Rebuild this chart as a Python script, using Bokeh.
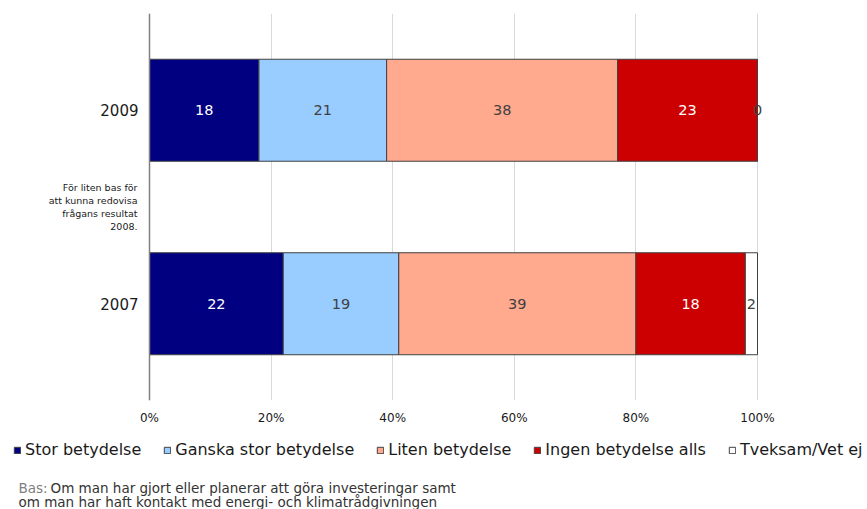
from bokeh.plotting import figure
from bokeh.models import (ColumnDataSource, FixedTicker, Legend, LegendItem,
                          Label, LabelSet, Range1d, Span)
from bokeh.layouts import column
from bokeh.core.properties import value
from bokeh.embed import file_html
from bokeh.resources import INLINE

# ---- data ----
years = ["2009", "2007"]
year_pos = [3, 1]
gap_pos = 2
series = ["Stor betydelse", "Ganska stor betydelse", "Liten betydelse",
          "Ingen betydelse alls", "Tveksam/Vet ej"]
values_2009 = [18, 21, 38, 23, 0]
values_2007 = [22, 19, 39, 18, 2]
colors = ["#000080", "#99CCFF", "#FFA98F", "#CC0000", "#FFFFFF"]
label_colors = ["#FFFFFF", "#404040", "#404040", "#FFFFFF", "#404040"]
x_ticks = [0, 20, 40, 60, 80, 100]
note_2008 = ["För liten bas för", "att kunna redovisa", "frågans resultat", "2008."]
footnote_head = "Bas:"
footnote_lines = ["Om man har gjort eller planerar att göra investeringar samt",
                  "om man har haft kontakt med energi- och klimatrådgivningen"]

FONT = "DejaVu Sans"
W = 859
PX_PER_PCT = 6.08
LEFT_PX = 149

# ---------------- main chart ----------------
p = figure(width=W, height=430, frame_width=W, frame_height=387,
           output_backend="svg", toolbar_location=None,
           x_range=Range1d(-LEFT_PX / PX_PER_PCT, (W - LEFT_PX) / PX_PER_PCT),
           y_range=Range1d(0, 4), y_axis_location=None,
           min_border_left=0, min_border_right=0, min_border_top=13,
           min_border_bottom=30)
p.outline_line_color = None

rows = [values_2009, values_2007]
lab_x, lab_y, lab_t, lab_c = [], [], [], []
for i, name in enumerate(series):
    lefts, rights = [], []
    for r, vals in enumerate(rows):
        left = sum(vals[:i])
        lefts.append(left)
        rights.append(left + vals[i])
        lab_x.append(left + vals[i] / 2)
        lab_y.append(year_pos[r])
        lab_t.append(str(vals[i]))
        lab_c.append(label_colors[i])
    src = ColumnDataSource(dict(y=year_pos, left=lefts, right=rights))
    p.hbar(y="y", left="left", right="right", height=1.054, source=src,
           fill_color=colors[i], line_color="#404040", line_width=1)

lsrc = ColumnDataSource(dict(x=lab_x, y=lab_y, t=lab_t, c=lab_c))
p.add_layout(LabelSet(x="x", y="y", text="t", source=lsrc, text_color="c",
                      text_align="center", text_baseline="middle",
                      text_font=value(FONT), text_font_size="14.5px"))

# category axis (vertical line at 0% + category labels)
p.add_layout(Span(location=0, dimension="height", line_color="#808080",
                  line_width=1.5))
ysrc = ColumnDataSource(dict(x=[0] * len(years), y=year_pos, t=years))
p.add_layout(LabelSet(x="x", y="y", text="t", source=ysrc, x_offset=-11,
                      text_align="right", text_baseline="middle",
                      text_font=value(FONT), text_font_size="15px",
                      text_color="#1a1a1a"))
for k, line in enumerate(note_2008):
    p.add_layout(Label(x=0, y=gap_pos, x_offset=-12, y_offset=20 - 13 * k,
                       text=line, text_align="right", text_baseline="middle",
                       text_font=FONT, text_font_size="9.5px",
                       text_color="#1a1a1a"))

# value axis
p.xaxis.ticker = FixedTicker(ticks=x_ticks)
p.xaxis.major_label_overrides = {t: f"{t}%" for t in x_ticks}
p.xaxis.axis_line_color = None
p.xaxis.major_tick_line_color = None
p.xaxis.minor_tick_line_color = None
p.xaxis.major_tick_in = 0
p.xaxis.major_tick_out = 0
p.xaxis.major_label_standoff = 10
p.xaxis.major_label_text_font = FONT
p.xaxis.major_label_text_font_size = "12px"
p.xaxis.major_label_text_color = "#1a1a1a"

p.xgrid.grid_line_color = "#D9D9D9"
p.xgrid.ticker = FixedTicker(ticks=x_ticks)
p.ygrid.grid_line_color = None

# ---------------- legend + footnote ----------------
HB = 79
WB = 867
q = figure(width=WB, height=HB, frame_width=WB, frame_height=HB,
           output_backend="svg", toolbar_location=None,
           x_range=Range1d(0, WB), y_range=Range1d(HB, 0),
           x_axis_location=None, y_axis_location=None,
           min_border=0)
q.outline_line_color = None
q.xgrid.grid_line_color = None
q.ygrid.grid_line_color = None

items = []
for s, c in zip(series, colors):
    # legend swatch carrier: empty bar placed far outside the visible range
    r = q.hbar(y=[5000], left=[5000], right=[5000], height=1, fill_color=c,
               line_color="#404040", line_width=1)
    items.append(LegendItem(label=s, renderers=[r]))
legend = Legend(items=items, orientation="horizontal", location=(13, 50),
                glyph_width=8, glyph_height=8, label_standoff=4, spacing=22,
                padding=0, margin=0, border_line_color=None,
                background_fill_alpha=0, label_text_font=FONT,
                label_text_font_size="16px", label_text_color="#1a1a1a",
                label_height=18)
q.add_layout(legend, "center")

q.add_layout(Label(x=18, y=57.5, text=footnote_head, text_align="left",
                   text_baseline="middle", text_font=FONT,
                   text_font_size="13.5px", text_color="#808080"))
q.add_layout(Label(x=50, y=57.5, text=footnote_lines[0], text_align="left",
                   text_baseline="middle", text_font=FONT,
                   text_font_size="13.5px", text_color="#333333"))
q.add_layout(Label(x=18, y=71.5, text=footnote_lines[1], text_align="left",
                   text_baseline="middle", text_font=FONT,
                   text_font_size="13.5px", text_color="#333333"))

layout = column(p, q, spacing=0)
open("out.html", "w").write(file_html(layout, INLINE))
